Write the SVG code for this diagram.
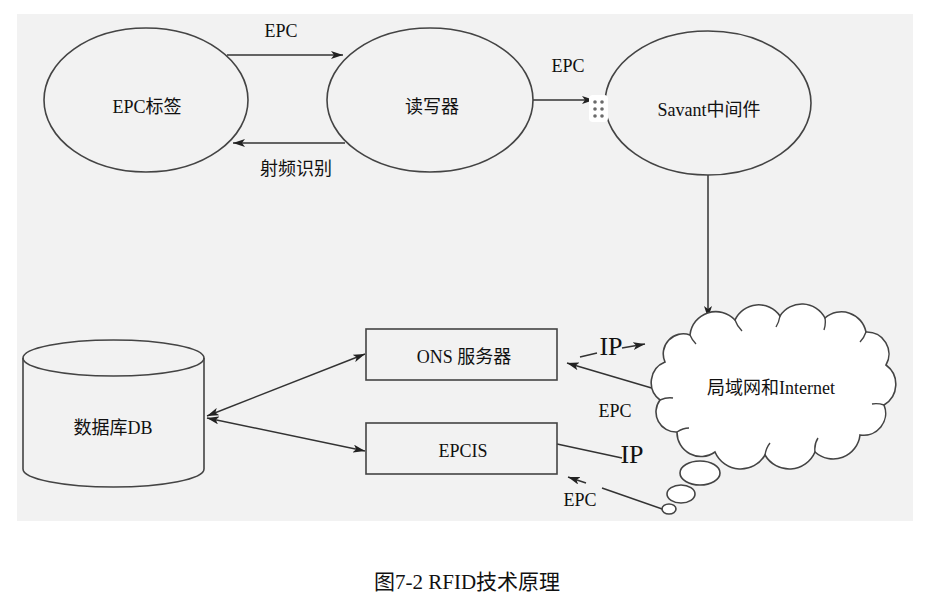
<svg xmlns="http://www.w3.org/2000/svg" width="932" height="605" viewBox="0 0 932 605">
<style>
.shape{fill:none;stroke:#444;stroke-width:1.6}
.filled{fill:#fff;stroke:#444;stroke-width:1.6}
.curl{fill:none;stroke:#444;stroke-width:1.4}
.ln{fill:none;stroke:#333;stroke-width:1.5}
text{font-family:"Liberation Serif","Noto Sans CJK SC",serif;fill:#111;font-size:18px;text-anchor:middle}
.big{font-size:26px}
.cap{font-size:21px}
</style>
<defs>
<marker id="ah" viewBox="0 0 12 8" refX="12" refY="4" markerWidth="12" markerHeight="8" markerUnits="userSpaceOnUse" orient="auto-start-reverse">
<path d="M0,0 L12,4 L0,8 L3,4 Z" fill="#222"/>
</marker>
</defs>
<rect x="17" y="14" width="896" height="507" fill="#f2f2f2"/>

<g id="connectors">
<line class="ln" x1="227" y1="55" x2="343" y2="55" marker-end="url(#ah)"/>
<line class="ln" x1="345" y1="143" x2="233" y2="143" marker-end="url(#ah)"/>
<line class="ln" x1="533" y1="100" x2="594" y2="100" marker-end="url(#ah)"/>
<line class="ln" x1="708" y1="175" x2="708" y2="318" marker-end="url(#ah)"/>
<line class="ln" x1="207" y1="416" x2="365" y2="354" marker-start="url(#ah)" marker-end="url(#ah)"/>
<line class="ln" x1="207" y1="418" x2="365" y2="451" marker-start="url(#ah)" marker-end="url(#ah)"/>
<line class="ln" x1="580" y1="357" x2="597" y2="353"/>
<line class="ln" x1="622" y1="348" x2="645" y2="344" marker-end="url(#ah)"/>
<line class="ln" x1="655" y1="389" x2="567" y2="363" marker-end="url(#ah)"/>
<line class="ln" x1="557" y1="444" x2="622" y2="458"/>
<line class="ln" x1="665" y1="510" x2="602" y2="488"/>
<line class="ln" x1="586" y1="483" x2="568" y2="477" marker-end="url(#ah)"/>
</g>

<g id="epc-tag">
<ellipse class="shape" cx="146" cy="100" rx="102" ry="72"/>
<text x="147" y="113">EPC标签</text>
</g>
<g id="reader">
<ellipse class="shape" cx="430" cy="100" rx="103" ry="72"/>
<text x="432" y="113">读写器</text>
</g>
<g id="savant">
<ellipse class="shape" cx="708" cy="103" rx="103" ry="72"/>
<text x="709" y="116">Savant中间件</text>
</g>
<g id="handle">
<rect x="589" y="95" width="19" height="27" rx="4" fill="#fff"/>
<g fill="#6a6a6a">
<circle cx="595" cy="102" r="1.8"/><circle cx="602" cy="102" r="1.8"/>
<circle cx="595" cy="109" r="1.8"/><circle cx="602" cy="109" r="1.8"/>
<circle cx="595" cy="116" r="1.8"/><circle cx="602" cy="116" r="1.8"/>
</g>
</g>
<g id="database">
<path class="shape" d="M23,358 L23,469 A90.5,18 0 0 0 204,469 L204,358"/>
<ellipse class="shape" cx="113.5" cy="358" rx="90.5" ry="18"/>
<text x="113" y="434">数据库DB</text>
</g>
<g id="ons">
<rect class="shape" x="366" y="329" width="191" height="51"/>
<text x="464" y="363">ONS 服务器</text>
</g>
<g id="epcis">
<rect class="shape" x="366" y="423" width="191" height="51"/>
<text x="463" y="457">EPCIS</text>
</g>
<g id="cloud">
<path class="filled" d="M690,335 A26,26 0 0 1 735,320 A26,26 0 0 1 780,316 A26,26 0 0 1 825,318 A25,25 0 0 1 866,332 A22,22 0 0 1 886,365 A24,24 0 0 1 884,405 A22,22 0 0 1 860,435 A27,27 0 0 1 815,452 A28,28 0 0 1 765,455 A28,28 0 0 1 715,452 A24,24 0 0 1 677,432 A20,20 0 0 1 660,400 A22,22 0 0 1 665,362 A20,20 0 0 1 690,335 Z"/>
<path class="curl" d="M735,320 Q737,326 742,331 M780,316 Q779,322 776,327 M825,318 Q826,324 824,330 M866,332 Q864,338 860,342 M884,405 Q878,403 872,404 M815,452 Q814,444 818,438 M765,455 Q766,448 770,443 M677,432 Q683,428 689,428 M660,400 Q667,397 673,398 M690,335 Q692,340 696,344"/>
<ellipse class="filled" cx="700" cy="473" rx="20" ry="12"/>
<ellipse class="filled" cx="681" cy="494" rx="14" ry="9"/>
<ellipse class="filled" cx="669" cy="509" rx="7" ry="5"/>
<text x="771" y="394">局域网和Internet</text>
</g>

<g id="labels">
<text x="281" y="37">EPC</text>
<text x="296" y="175">射频识别</text>
<text x="568" y="72">EPC</text>
<text class="big" x="611" y="355">IP</text>
<text class="big" x="632" y="463">IP</text>
<text x="615" y="417">EPC</text>
<text x="580" y="506">EPC</text>
<text class="cap" x="467" y="589">图7-2 RFID技术原理</text>
</g>
</svg>
